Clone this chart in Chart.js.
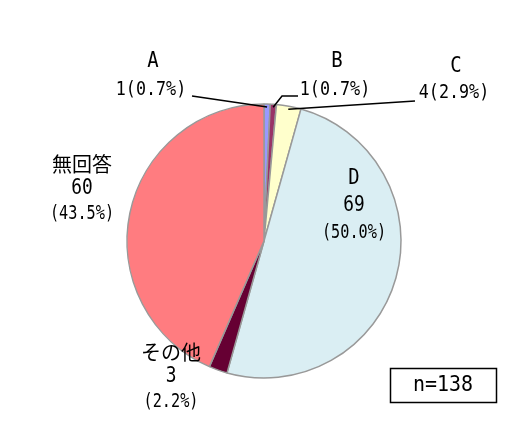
<!DOCTYPE html>
<html><head><meta charset="utf-8">
<script src="https://cdn.jsdelivr.net/npm/chart.js@4/dist/chart.umd.min.js"></script>
<style>html,body{margin:0;padding:0;background:#fff}canvas{display:block}</style>
</head><body>
<canvas id="c" width="522" height="438"></canvas>
<script>
const categories = ['A', 'B', 'C', 'D', 'その他', '無回答'];
const counts = [1, 1, 4, 69, 3, 60];
const sampleLabel = 'n=138';
const colors = ['#9999FF', '#993366', '#FFFFCC', '#DAEEF3', '#660033', '#FF7C80'];

const CJK = '"Noto Sans CJK JP", sans-serif';
const MONO = '"DejaVu Sans Mono", monospace';
// label layout
const labelLayout = [
  {x: 153, y: 62, x2: 151, y2: 90, inline: true, leader: [[192, 96]]},
  {x: 337, y: 62, x2: 335, y2: 90, inline: true, leader: [[282, 96], [298, 96]]},
  {x: 456, y: 67, x2: 454, y2: 93, inline: true, leader: [[415, 101]]},
  {x: 354, y: 179, gap: 27},
  {x: 171, y: 352, gap: 25},
  {x: 82, y: 164, gap: 25}
];

const total = counts.reduce((a, b) => a + b, 0);
const pct = v => (v / total * 100).toFixed(1) + '%';

function txt(ctx, s, x, y, size, sx, family) {
  ctx.save();
  ctx.translate(x, y);
  ctx.scale(sx, 1);
  ctx.font = size + 'px ' + family;
  ctx.fillText(s, 0, 0);
  ctx.restore();
}
const isLatin = s => /^[\x00-\x7F]*$/.test(s);

const labelPlugin = {
  id: 'labels',
  afterDraw(chart) {
    const ctx = chart.ctx;
    const meta = chart.getDatasetMeta(0);
    ctx.save();
    ctx.textAlign = 'center';
    ctx.textBaseline = 'middle';
    ctx.fillStyle = '#000';
    meta.data.forEach((arc, i) => {
      const L = labelLayout[i];
      const name = categories[i];
      const v = counts[i];
      const drawName = (x, y) => isLatin(name)
        ? txt(ctx, name, x, y, 21, 0.9, MONO)
        : txt(ctx, name, x, y, 20, 1, CJK);
      if (L.inline) {
        const p = arc.getProps(['x', 'y', 'startAngle', 'endAngle', 'outerRadius'], true);
        const mid = (p.startAngle + p.endAngle) / 2;
        const r = p.outerRadius - 3;
        ctx.strokeStyle = '#000';
        ctx.lineWidth = 1.5;
        ctx.beginPath();
        ctx.moveTo(p.x + Math.cos(mid) * r, p.y + Math.sin(mid) * r);
        L.leader.forEach(pt => ctx.lineTo(pt[0], pt[1]));
        ctx.stroke();
        drawName(L.x, L.y);
        txt(ctx, v + '(' + pct(v) + ')', L.x2, L.y2, 19, 0.88, MONO);
      } else {
        drawName(L.x, L.y);
        txt(ctx, String(v), L.x, L.y + L.gap, 21, 0.85, MONO);
        txt(ctx, '(' + pct(v) + ')', L.x, L.y + 2 * L.gap, 19, 0.8, MONO);
      }
    });
    ctx.strokeStyle = '#000';
    ctx.lineWidth = 1.5;
    ctx.strokeRect(390.5, 368.5, 106, 34);
    txt(ctx, sampleLabel, 443, 386, 21, 0.95, MONO);
    ctx.restore();
  }
};

new Chart(document.getElementById('c'), {
  type: 'pie',
  data: {
    labels: categories,
    datasets: [{
      data: counts,
      backgroundColor: colors,
      borderColor: '#999999',
      borderWidth: 1.5,
      hoverOffset: 0
    }]
  },
  options: {
    responsive: false,
    animation: false,
    devicePixelRatio: 1,
    radius: 137,
    layout: {padding: {left: 127, right: 121, top: 104, bottom: 60}},
    plugins: {legend: {display: false}, tooltip: {enabled: false}}
  },
  plugins: [labelPlugin]
});
</script>
</body></html>
